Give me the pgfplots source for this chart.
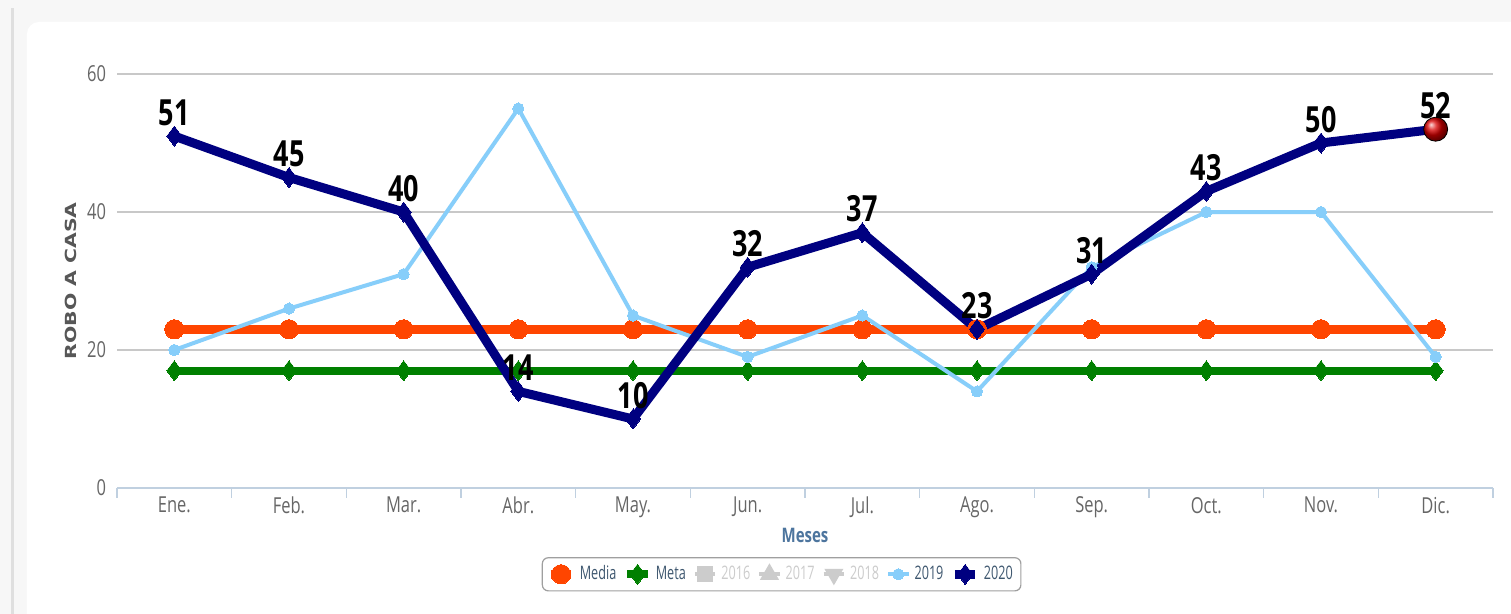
\documentclass[border=0pt]{standalone}
\usepackage{fontspec}
\usepackage{graphicx}
\setmainfont{Open Sans}[FakeStretch=0.75]
\newfontfamily\ylfont{DejaVu Sans}
\newfontfamily\legfont{Open Sans}[FakeStretch=0.68]
\usepackage{pgfplots}
\pgfplotsset{compat=1.18}
\definecolor{media}{HTML}{FF4500}
\definecolor{meta}{HTML}{008000}
\definecolor{cnine}{HTML}{87CEFA}
\definecolor{ctwenty}{HTML}{000080}
\definecolor{gridc}{HTML}{C8C8C8}
\definecolor{xaxc}{HTML}{C0D0E0}
\definecolor{tickc}{HTML}{666666}
\definecolor{xlabc}{HTML}{4D759E}
\definecolor{legc}{HTML}{3E576F}
\definecolor{hidc}{HTML}{CCCCCC}
\definecolor{bgc}{HTML}{F7F7F7}
\begin{document}
\begin{tikzpicture}
% background (1px = 0.5pt; plot area lower-left at origin)
\fill[bgc] (-58.5pt,-63pt) rectangle (697pt,244pt);
\fill[white, rounded corners=6pt] (-45pt,-70pt) rectangle (705pt,233pt);
\draw[color=gray!25, line width=1.5pt] (-52pt,-63pt) -- (-52pt,240pt);
\begin{axis}[
  at={(0,0)}, anchor=south west,
  scale only axis, width=688pt, height=207pt,
  xmin=-0.5, xmax=11.5, ymin=0, ymax=60,
  axis x line*=bottom, axis y line*=left,
  x axis line style={draw=xaxc, line width=1pt, -},
  y axis line style={draw=none},
  xtick={0,...,11},
  xticklabels={Ene.,Feb.,Mar.,Abr.,May.,Jun.,Jul.,Ago.,Sep.,Oct.,Nov.,Dic.},
  minor xtick={-0.5,0.5,1.5,2.5,3.5,4.5,5.5,6.5,7.5,8.5,9.5,10.5,11.5},
  major tick length=0pt, minor tick length=5pt, tick align=outside,
  minor x tick style={draw=xaxc, line width=0.8pt},
  ytick={0,20,40,60},
  ytick style={draw=none},
  ymajorgrids, major grid style={draw=gridc, line width=0.6pt},
  tick label style={font=\fontsize{11}{13}\selectfont, text=tickc},
  /pgf/number format/assume math mode=true,
  xticklabel style={yshift=-1pt},
  yticklabel style={xshift=-2pt},
  xlabel={\bfseries Meses},
  xlabel style={at={(axis description cs:0.5,-0.114)}, anchor=center, font=\fontsize{10}{12}\selectfont, text=xlabc},
  ylabel={\scalebox{1}[0.75]{\ylfont\bfseries ROBO A CASA}},
  ylabel style={at={(axis description cs:-0.0334,0.5)}, anchor=center, font=\fontsize{10.2}{12}\selectfont, text=tickc!85!black},
  legend columns=-1,
  legend style={at={(axis description cs:0.483,-0.167)}, anchor=north,
    draw=gray!75, rounded corners=3pt, line width=0.6pt,
    font=\legfont\fontsize{9.3}{11}\selectfont, text=legc,
    inner xsep=2pt, inner ysep=2pt,
    /tikz/every even column/.append style={column sep=1.5pt}},
  legend image code/.code={\draw[mark repeat=2,mark phase=2] plot coordinates {(0cm,0cm) (0.18cm,0cm) (0.36cm,0cm)};},
]
\addplot[media, line width=4.5pt, mark=*, mark size=4.8pt, mark options={solid, line width=0pt}]
  coordinates {(0,23)(1,23)(2,23)(3,23)(4,23)(5,23)(6,23)(7,23)(8,23)(9,23)(10,23)(11,23)};
\addlegendentry{Media}
\addplot[meta, line width=4pt, mark=diamond*, mark size=5pt, mark options={solid, line width=0pt}]
  coordinates {(0,17)(1,17)(2,17)(3,17)(4,17)(5,17)(6,17)(7,17)(8,17)(9,17)(10,17)(11,17)};
\addlegendentry{Meta}
\addlegendimage{hidc, line width=2pt, mark=square*, mark size=3pt}
\addlegendentry{\textcolor{hidc}{2016}}
\addlegendimage{hidc, line width=2pt, mark=triangle*, mark size=3.5pt}
\addlegendentry{\textcolor{hidc}{2017}}
\addlegendimage{hidc, line width=2pt, mark=triangle*, mark size=3.5pt, mark options={rotate=180}}
\addlegendentry{\textcolor{hidc}{2018}}
\addplot[cnine, line width=2pt, mark=*, mark size=2.8pt, mark options={solid, line width=0pt}]
  coordinates {(0,20)(1,26)(2,31)(3,55)(4,25)(5,19)(6,25)(7,14)(8,32)(9,40)(10,40)(11,19)};
\addlegendentry{2019}
\addplot[ctwenty, line width=4.5pt, mark=diamond*, mark size=5pt, mark options={solid, line width=0pt}]
  coordinates {(0,51)(1,45)(2,40)(3,14)(4,10)(5,32)(6,37)(7,23)(8,31)(9,43)(10,50)(11,52)};
\addlegendentry{2020}
\addplot[forget plot, only marks, mark=ball, mark size=6pt, ball color=red!85!black]
  coordinates {(11,52)};
\addplot[forget plot, draw=none, mark=none, nodes near coords,
  nodes near coords style={font=\fontsize{18}{20}\selectfont\bfseries, text=black, anchor=south, inner sep=2pt, yshift=3pt}]
  coordinates {(0,51)(1,45)(2,40)(3,14)(4,10)(5,32)(6,37)(7,23)(8,31)(9,43)(10,50)(11,52)};
\end{axis}
\pgfresetboundingbox
\useasboundingbox (-58.5pt,-63pt) rectangle (697pt,244pt);
\end{tikzpicture}
\end{document}
